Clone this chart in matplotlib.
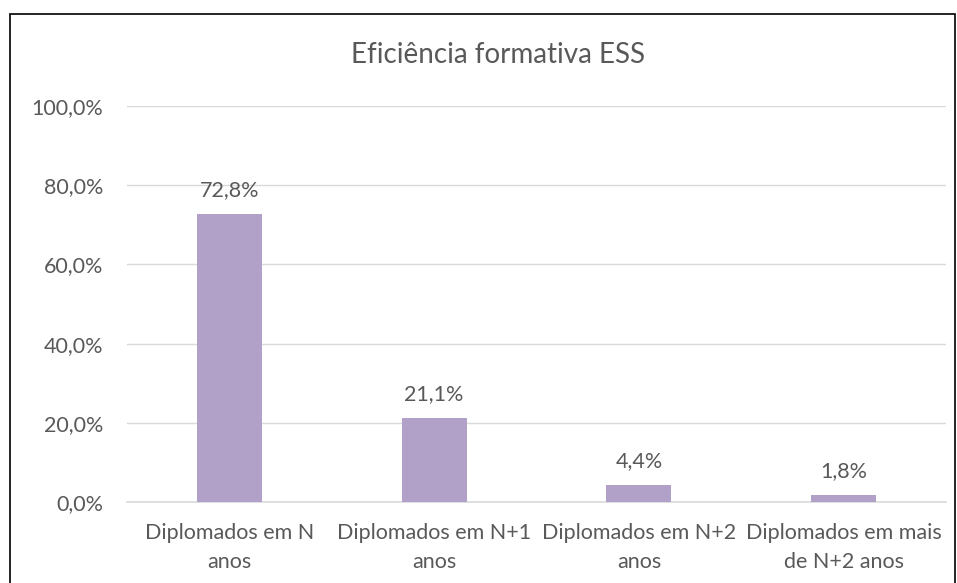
import matplotlib
matplotlib.use("Agg")
import matplotlib.pyplot as plt
from matplotlib.patches import Rectangle

categories = ["Diplomados em N\nanos", "Diplomados em N+1\nanos",
              "Diplomados em N+2\nanos", "Diplomados em mais\nde N+2 anos"]
values = [72.8, 21.1, 4.4, 1.8]
yticks = [0, 20, 40, 60, 80, 100]

text_color = "#595959"
bar_color = "#B1A0C7"
grid_color = "#D9D9D9"

plt.rcParams["font.family"] = ["Lato", "DejaVu Sans"]

fig = plt.figure(figsize=(9.57, 5.83), dpi=100)
ax = fig.add_axes([127 / 957, 1 - 502 / 583, 819 / 957, 396 / 583])

x = range(len(categories))
bars = ax.bar(x, values, width=0.317, color=bar_color, zorder=3)
for b, v in zip(bars, values):
    ax.annotate(f"{v:.1f}%".replace(".", ","),
                (b.get_x() + b.get_width() / 2, v),
                xytext=(0, 10), textcoords="offset points",
                ha="center", va="bottom", fontsize=15.5, color=text_color)

ax.set_xlim(-0.5, 3.5)
ax.set_ylim(0, 100)
ax.set_yticks(yticks)
ax.set_yticklabels([f"{t:.1f}%".replace(".", ",") for t in yticks])
ax.set_xticks(list(x))
ax.set_xticklabels(categories, linespacing=1.6)
ax.tick_params(axis="y", length=0, pad=17, labelsize=15.5, labelcolor=text_color)
ax.tick_params(axis="x", length=0, pad=15, labelsize=15.5, labelcolor=text_color)
ax.grid(axis="y", color=grid_color, linewidth=1, zorder=0)
for s in ["top", "right", "left"]:
    ax.spines[s].set_visible(False)
ax.spines["bottom"].set_color(grid_color)
ax.spines["bottom"].set_linewidth(1.2)

fig.text(498 / 957, 1 - 55 / 583, "Eficiência formativa ESS",
         ha="center", va="center", fontsize=20, color=text_color)

fig.patches.append(Rectangle((10 / 957, -0.05), 945 / 957, 1.05 - 14 / 583,
                             transform=fig.transFigure, fill=False,
                             edgecolor="black", linewidth=1.2))

fig.savefig("out.png", dpi=100)
